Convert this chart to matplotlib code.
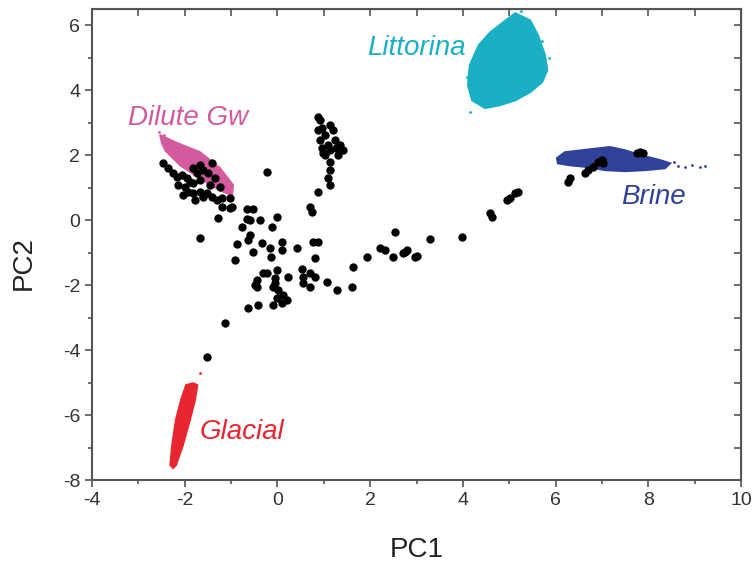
import matplotlib
matplotlib.use("Agg")
import matplotlib.pyplot as plt
from matplotlib.ticker import MultipleLocator

plt.rcParams['font.family'] = ['Liberation Sans', 'DejaVu Sans']
plt.rcParams['axes.unicode_minus'] = False

# end-member clouds, outlines (PC1, PC2)
littorina_x = [5.13, 5.45, 5.62, 5.77, 5.82, 5.71, 5.45, 5.13, 4.80, 4.48, 4.20, 4.11, 4.15, 4.34, 4.59, 4.87]
littorina_y = [6.37, 6.15, 5.69, 5.08, 4.62, 4.25, 3.94, 3.69, 3.54, 3.45, 3.69, 4.15, 4.77, 5.38, 5.78, 6.09]
littorina_stray_x = [4.15, 5.80, 5.86, 5.25, 4.08, 5.70]
littorina_stray_y = [3.32, 4.70, 5.00, 6.45, 4.40, 5.50]

brine_x = [6.03, 6.20, 6.74, 7.17, 7.50, 7.82, 8.25, 8.47, 8.36, 7.93, 7.50, 7.07, 6.74, 6.31, 6.05]
brine_y = [1.91, 2.09, 2.18, 2.25, 2.15, 2.00, 1.85, 1.75, 1.60, 1.54, 1.51, 1.54, 1.63, 1.69, 1.75]
brine_stray_x = [8.64, 8.79, 8.94, 9.11, 9.22, 8.55]
brine_stray_y = [1.66, 1.63, 1.69, 1.63, 1.66, 1.80]

dilute_x = [-2.53, -2.21, -1.67, -1.24, -0.96, -0.98, -1.24, -1.67, -2.10, -2.42, -2.49]
dilute_y = [2.62, 2.40, 2.09, 1.60, 1.08, 0.77, 0.92, 1.29, 1.69, 2.15, 2.37]
dilute_stray_x = [-2.55, -2.45]
dilute_stray_y = [2.72, 2.62]

glacial_x = [-2.31, -2.27, -2.19, -2.08, -1.97, -1.82, -1.73, -1.78, -1.89, -2.04, -2.19, -2.25]
glacial_y = [-7.54, -6.92, -6.15, -5.54, -5.08, -5.02, -5.08, -5.54, -6.15, -6.92, -7.54, -7.63]
glacial_stray_x = [-1.67]
glacial_stray_y = [-4.71]

# groundwater samples
sample_x = [-2.46, -2.36, -2.25, -2.17, -2.06, -1.95, -1.89, -1.82, -1.99, -1.93, -1.82, -1.67,
            -1.60, -1.52, -1.41, -1.30, -1.19, -1.45, -1.67, -1.73, -1.82, -1.60, -1.41, -1.67,
            -1.50, -1.35, -1.24, -1.02, -1.02, -1.19, -1.28, -2.14, -2.04, -1.78,
            -0.22, -1.67, -0.98, -0.66, -0.53, -0.66, -0.59, -0.38, -0.01, -0.76, -0.12, -0.59,
            -0.63, -0.87, -0.33, -0.53, -0.16, -0.14, 0.10, 0.10, 0.42, 0.77, 0.88, 0.81,
            -0.91, -0.22, -0.01, 0.23, 0.53, 0.70, 0.81, -0.44, -0.05, -0.09, 0.01, 0.12,
            -0.01, 0.10, -0.09, 0.55, 0.70, 1.07, 1.29, 1.61, -0.42, -0.63, -1.13, -0.44,
            -0.05, 0.21, -0.31, -0.48, 0.55, -1.51, 0.70, 0.74, 0.88, 1.13,
            1.63, 1.93, 2.21, 2.32, 2.49, 2.53, 2.75, 2.79, 3.01, 3.29, 2.97, 2.71, 3.98,
            4.58, 4.63, 4.95, 5.02, 5.13, 5.19, 6.27, 6.31, 6.63, 6.70, 6.80, 6.91, 7.00,
            7.03, 7.75, 7.82, 7.89,
            0.92, 0.96, 1.03, 0.92, 1.09, 1.13, 1.24, 1.35, 1.42, 1.31, 1.03, 0.96, 1.20,
            1.13, 0.88, 0.88, 1.13, 1.13, 1.09, 0.98, 1.27]
sample_y = [1.75, 1.60, 1.45, 1.32, 1.38, 1.29, 1.17, 1.14, 1.02, 0.86, 0.83, 0.86,
            0.71, 0.83, 0.71, 0.62, 0.68, 1.08, 1.23, 1.45, 1.60, 1.54, 1.75, 1.69,
            1.45, 1.29, 1.02, 0.68, 0.37, 0.40, 0.06, 1.08, 0.77, 0.62,
            1.48, -0.55, 0.40, 0.34, 0.34, 0.03, 0.00, 0.00, 0.09, -0.22, -0.22, -0.46,
            -0.62, -0.74, -0.71, -0.98, -0.86, -1.14, -0.68, -0.92, -0.86, -0.68, -0.68, -1.17,
            -1.23, -1.63, -1.54, -1.75, -1.51, -1.63, -1.75, -1.85, -1.78, -2.06, -2.15, -2.31,
            -2.40, -2.55, -2.62, -1.94, -2.06, -1.91, -2.15, -2.06, -2.62, -2.71, -3.17, -2.06,
            -1.94, -2.46, -1.63, -2.00, -1.75, -4.22, 0.40, 0.25, 0.86, 1.08,
            -1.45, -1.14, -0.86, -0.92, -1.14, -0.37, -0.98, -0.92, -1.11, -0.58, -1.14, -1.02, -0.52,
            0.22, 0.09, 0.62, 0.68, 0.83, 0.86, 1.17, 1.29, 1.45, 1.54, 1.63, 1.78, 1.85,
            1.75, 2.06, 2.09, 2.06,
            3.08, 2.83, 2.62, 2.46, 2.31, 2.15, 2.46, 2.31, 2.15, 2.00, 2.00, 2.22, 2.77,
            2.92, 2.77, 3.17, 1.78, 1.54, 1.29, 2.06, 2.22]

labels = ["Littorina", "Brine", "Dilute Gw", "Glacial"]
label_x = [3.0, 8.12, -1.93, -0.77]
label_y = [5.29, 0.71, 3.14, -6.52]

c_litt = '#1AAFC4'
c_brine = '#2F4199'
c_dil = '#D45A9E'
c_glac = '#E8262F'
colors = [c_litt, c_brine, c_dil, c_glac]

fig = plt.figure(figsize=(7.55, 5.67), dpi=100)
ax = fig.add_axes([0.1219, 0.1534, 0.8596, 0.8307])

for cx, cy, sx, sy, c in [(littorina_x, littorina_y, littorina_stray_x, littorina_stray_y, c_litt),
                          (brine_x, brine_y, brine_stray_x, brine_stray_y, c_brine),
                          (dilute_x, dilute_y, dilute_stray_x, dilute_stray_y, c_dil),
                          (glacial_x, glacial_y, glacial_stray_x, glacial_stray_y, c_glac)]:
    ax.fill(cx, cy, color=c, lw=1.5, ec=c, zorder=2)
    ax.scatter(sx, sy, s=4, color=c, lw=0, zorder=2)

ax.scatter(sample_x, sample_y, s=36, color='black', lw=0, zorder=3)

for t, x, y, c in zip(labels, label_x, label_y, colors):
    ax.text(x, y, t, color=c, fontsize=20, style='italic', ha='center', va='center')

ax.set_xlim(-4, 10)
ax.set_ylim(-8, 6.5)
ax.xaxis.set_major_locator(MultipleLocator(2))
ax.xaxis.set_minor_locator(MultipleLocator(1))
ax.yaxis.set_major_locator(MultipleLocator(2))
ax.yaxis.set_minor_locator(MultipleLocator(1))

for s in ax.spines.values():
    s.set_color('#555555')
    s.set_linewidth(1.5)

ax.tick_params(which='both', direction='out', colors='#555555', labelcolor='#333333',
               labelsize=14, width=1.2)
ax.tick_params(which='major', length=5)
ax.tick_params(which='minor', length=3)

# mirrored inward ticks on top and right
top = ax.secondary_xaxis('top')
top.xaxis.set_major_locator(MultipleLocator(1))
top.tick_params(direction='in', length=5, width=1.2, colors='#555555', labeltop=False)
right = ax.secondary_yaxis('right')
right.yaxis.set_major_locator(MultipleLocator(1))
right.tick_params(direction='in', length=5, width=1.2, colors='#555555', labelright=False)

ax.set_xlabel('PC1', fontsize=20, color='#222222', labelpad=20)
ax.set_ylabel('PC2', fontsize=20, color='#222222')
ax.yaxis.set_label_coords(-0.085, 0.46)

fig.savefig('out.png', dpi=100)
